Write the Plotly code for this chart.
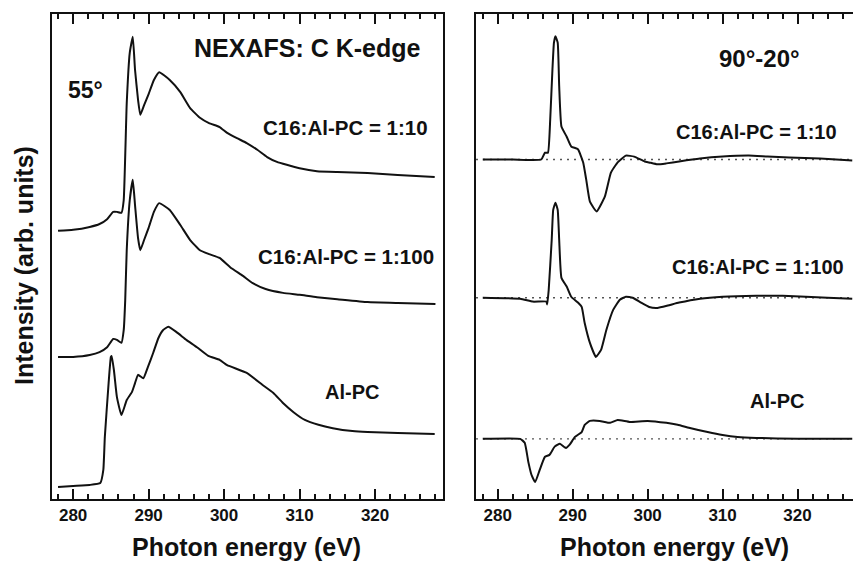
import plotly.graph_objects as go

# ---------------- C K-edge NEXAFS spectra at 55 deg (stacked, arb. units) ----------------
e_c16_10 = [278.0, 280.0, 282.2, 283.5, 284.5, 285.3, 285.8, 286.4, 286.7, 287.1, 287.5,
            287.9, 288.2, 288.6, 288.9, 289.4, 290.0, 290.7, 291.4, 292.8, 294.2, 295.5,
            296.8, 298.0, 299.4, 300.4, 301.7, 303.0, 304.4, 305.7, 307.0, 308.3, 310.0,
            312.3, 315.0, 319.0, 323.0, 327.9]
y_c16_10 = [55.3, 55.5, 56.1, 56.7, 57.7, 59.2, 59.2, 59.0, 61.6, 81.6, 92.0,
            95.3, 88.5, 82.3, 79.2, 81.2, 83.5, 86.4, 88.0, 86.4, 83.9, 80.6,
            78.6, 77.5, 76.7, 75.5, 74.4, 73.4, 72.0, 70.5, 69.5, 68.9, 68.2,
            67.6, 67.4, 67.2, 66.8, 66.4]

e_c16_100 = [278.0, 280.0, 282.2, 283.5, 284.5, 285.3, 285.8, 286.4, 286.7, 286.9, 287.1,
             287.5, 287.9, 288.2, 288.6, 288.9, 289.4, 290.0, 290.7, 291.4, 292.8, 294.2,
             295.5, 296.8, 298.0, 299.4, 300.8, 302.5, 303.8, 305.5, 307.8, 310.0, 312.3,
             315.0, 319.0, 323.0, 328.0]
y_c16_100 = [29.3, 29.3, 29.7, 30.3, 31.3, 33.0, 32.8, 32.2, 34.8, 41.0, 51.3,
             61.6, 65.8, 60.6, 53.8, 51.3, 53.4, 55.9, 59.2, 61.0, 59.6, 56.5,
             53.4, 51.3, 50.5, 49.7, 47.8, 46.0, 44.5, 43.3, 42.5, 42.1, 41.6,
             41.2, 40.6, 40.4, 40.2]

e_alpc = [278.0, 280.0, 282.2, 283.6, 284.0, 284.2, 284.7, 285.0, 285.1, 285.4, 285.8,
          286.4, 287.1, 287.8, 288.2, 288.6, 289.3, 289.9, 290.6, 291.3, 291.9, 292.6,
          293.7, 295.0, 296.4, 297.9, 299.4, 300.4, 303.0, 305.1, 306.5, 307.8, 309.2,
          310.7, 312.5, 314.4, 317.0, 319.0, 323.0, 327.9]
y_alpc = [2.5, 2.7, 2.9, 3.3, 6.0, 12.8, 23.9, 29.3, 29.5, 26.6, 21.0,
          17.3, 20.4, 22.1, 23.9, 25.6, 24.9, 27.2, 30.1, 33.2, 34.8, 35.5,
          34.4, 32.8, 31.3, 29.5, 28.7, 27.6, 26.0, 23.5, 21.9, 19.8, 17.9,
          16.3, 15.3, 14.6, 14.0, 13.8, 13.6, 13.4]

# ---------------- Difference spectra 90 deg - 20 deg (relative to zero) ----------------
e_d10 = [278.0, 282.0, 285.8, 286.3, 286.7, 287.0, 287.3, 287.5, 287.7, 288.0, 288.2,
         288.5, 289.2, 289.8, 290.7, 291.4, 291.8, 292.3, 293.2, 294.3, 295.1, 296.0,
         297.1, 298.2, 299.6, 300.2, 301.3, 302.5, 304.2, 307.0, 310.0, 313.5, 316.0,
         318.9, 323.0, 327.3]
d_c16_10 = [0.0, 0.0, 0.0, 1.4, 1.4, 8.2, 18.6, 24.1, 25.4, 24.1, 15.1,
            6.8, 4.7, 2.7, 2.1, -0.6, -4.1, -8.7, -10.7, -7.6, -2.7, -0.6,
            0.8, 0.6, -0.4, -0.6, -1.0, -0.8, -0.4, 0.2, 0.6, 0.8, 0.6,
            0.4, 0.2, -0.2]

e_d100 = [278.0, 283.0, 284.7, 286.5, 286.6, 286.8, 287.2, 287.4, 287.7, 288.0, 288.2,
          288.5, 289.2, 289.8, 290.7, 291.2, 291.6, 292.3, 293.1, 293.8, 294.5, 295.4,
          296.3, 297.1, 298.0, 299.1, 300.2, 301.3, 302.7, 304.2, 307.0, 310.0, 314.5,
          318.0, 321.1, 324.0, 327.3]
d_c16_100 = [0.0, -0.2, -0.8, -0.8, -1.4, 1.6, 11.9, 18.1, 19.6, 18.1, 11.9,
             4.1, 2.3, 0.2, -1.0, -1.9, -5.2, -9.3, -12.2, -10.7, -6.6, -2.5,
             -0.4, 0.2, 0.0, -1.0, -1.9, -2.1, -1.6, -1.0, -0.2, 0.2, 0.4,
             0.4, 0.2, 0.0, -0.2]

e_dal = [278.0, 283.0, 283.6, 284.1, 284.5, 285.0, 285.6, 286.3, 286.9, 287.6, 288.3,
         289.1, 289.6, 290.3, 291.2, 291.6, 292.3, 293.6, 295.0, 296.0, 297.6, 300.0,
         302.5, 304.0, 305.5, 308.0, 310.0, 312.0, 314.5, 320.0, 327.3]
d_alpc = [0.0, 0.0, -0.8, -4.9, -7.4, -8.9, -6.4, -3.7, -3.3, -1.6, -1.0,
          -1.9, -1.2, 0.4, 1.4, 2.9, 3.7, 3.7, 3.3, 3.9, 3.5, 3.7,
          3.3, 2.9, 2.3, 1.4, 0.8, 0.4, 0.2, 0.0, 0.0]

# vertical offsets of the difference spectra (zero lines)
diff_offsets = [70.0, 41.5, 12.4]

x_ticks = [280, 290, 300, 310, 320]

FONT = "Liberation Sans, Arial, Helvetica, sans-serif"
INK = "#111111"

fig = go.Figure()

line_style = dict(color=INK, width=2, shape="spline", smoothing=0.4)

for ex, ys in [(e_c16_10, y_c16_10), (e_c16_100, y_c16_100), (e_alpc, y_alpc)]:
    fig.add_trace(go.Scatter(x=ex, y=ys, mode="lines", line=line_style,
                             xaxis="x", yaxis="y", showlegend=False, hoverinfo="skip"))

for off in diff_offsets:
    fig.add_trace(go.Scatter(x=[277.1, 327.4], y=[off, off], mode="lines",
                             line=dict(color="#555555", width=1.3, dash="2px,5px"),
                             xaxis="x2", yaxis="y2", showlegend=False, hoverinfo="skip"))

for ex, ds, off in [(e_d10, d_c16_10, diff_offsets[0]),
                    (e_d100, d_c16_100, diff_offsets[1]),
                    (e_dal, d_alpc, diff_offsets[2])]:
    fig.add_trace(go.Scatter(x=ex, y=[v + off for v in ds], mode="lines", line=line_style,
                             xaxis="x2", yaxis="y2", showlegend=False, hoverinfo="skip"))

xaxis_common = dict(
    tickmode="array", tickvals=x_ticks, ticktext=[str(t) for t in x_ticks],
    ticks="inside", ticklen=10, tickwidth=1.5, tickcolor=INK,
    minor=dict(dtick=2, tick0=280, ticks="inside", ticklen=5, tickwidth=1.5, tickcolor=INK),
    showline=True, linecolor=INK, linewidth=2, mirror="allticks",
    showgrid=False, zeroline=False,
    tickfont=dict(family=FONT, size=17, color=INK, weight="bold"),
)
yaxis_common = dict(range=[0, 100], showticklabels=False, ticks="", showgrid=False,
                    zeroline=False, showline=True, linecolor=INK, linewidth=2)

y_dom = [(561 - 499) / 561, (561 - 14) / 561]

fig.update_layout(
    width=853, height=561,
    margin=dict(l=0, r=0, t=0, b=0),
    paper_bgcolor="white", plot_bgcolor="white",
    xaxis=dict(domain=[52 / 853, 443 / 853], range=[277.2, 329.0], anchor="y", **xaxis_common),
    yaxis=dict(domain=y_dom, anchor="x", mirror=True, **yaxis_common),
    xaxis2=dict(domain=[476 / 853, 1.0], range=[277.1, 327.4], anchor="y2", **xaxis_common),
    yaxis2=dict(domain=y_dom, anchor="x2", mirror=False, **yaxis_common),
)

def label(text, x, y, size, xref="x", yref="y", angle=0):
    fig.add_annotation(text=text, x=x, y=y, xref=xref, yref=yref, showarrow=False,
                       xanchor="center", yanchor="middle", textangle=angle,
                       font=dict(family=FONT, size=size, color=INK, weight="bold"))

# left panel labels
label("NEXAFS: C K-edge", 311.0, 93.0, 25)
label("55°", 281.6, 84.3, 23)
label("C16:Al-PC = 1:10", 316.1, 76.5, 20.5)
label("C16:Al-PC = 1:100", 316.1, 49.9, 20.5)
label("Al-PC", 317.0, 22.1, 20)

# right panel labels
label("90°-20°", 314.9, 90.9, 24, xref="x2", yref="y2")
label("C16:Al-PC = 1:10", 314.5, 75.7, 20, xref="x2", yref="y2")
label("C16:Al-PC = 1:100", 314.7, 47.8, 20, xref="x2", yref="y2")
label("Al-PC", 317.2, 20.2, 20, xref="x2", yref="y2")

# axis titles
label("Intensity (arb. units)", 24 / 853, 1 - 266 / 561, 25, xref="paper", yref="paper", angle=-90)
label("Photon energy (eV)", 247 / 853, 1 - 547 / 561, 25, xref="paper", yref="paper")
label("Photon energy (eV)", 674 / 853, 1 - 547 / 561, 25, xref="paper", yref="paper")

fig.write_html("out.html")
